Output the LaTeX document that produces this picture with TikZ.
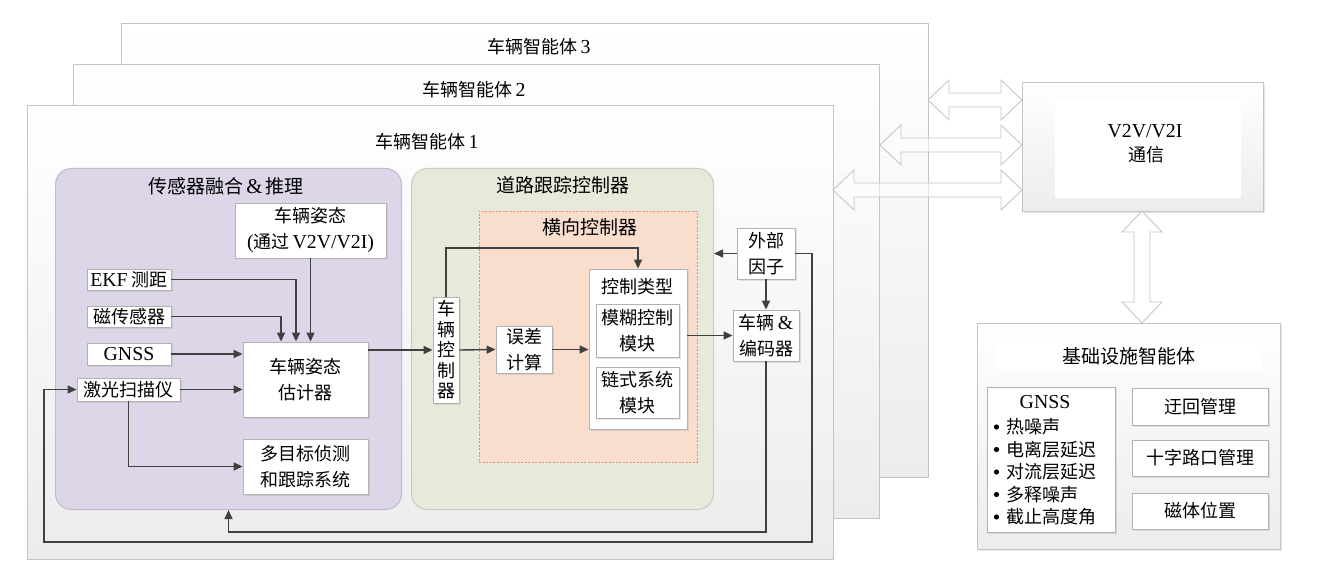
\documentclass[tikz,border=0pt]{standalone}
\usepackage{fontspec}
\setmainfont{Noto Sans CJK SC}
\newfontfamily\lat{Liberation Serif}[Scale=1.1]
\usetikzlibrary{arrows.meta,shadows}
\newcommand\la[1]{{\lat #1}}
\definecolor{framegray}{RGB}{196,196,196}
\definecolor{agbot}{RGB}{236,236,236}
\definecolor{boxline}{RGB}{178,178,178}
\definecolor{lineC}{RGB}{64,64,64}
\definecolor{lavfill}{RGB}{220,214,232}
\definecolor{lavline}{RGB}{192,186,206}
\definecolor{grnfill}{RGB}{229,234,219}
\definecolor{grnline}{RGB}{200,206,190}
\definecolor{pchfill}{RGB}{249,222,206}
\definecolor{pchline}{RGB}{232,140,120}
\newcommand\hblk[3]{\draw[barrow] (#1,#3) -- (#1+21,#3-20) -- (#1+21,#3-7) -- (#2-21,#3-7) -- (#2-21,#3-20) -- (#2,#3) -- (#2-21,#3+20) -- (#2-21,#3+7) -- (#1+21,#3+7) -- (#1+21,#3+20) -- cycle;}
\newcommand\vblk[3]{\draw[barrow] (#1,#2) -- (#1+20,#2+21) -- (#1+8,#2+21) -- (#1+8,#3-21) -- (#1+20,#3-21) -- (#1,#3) -- (#1-20,#3-21) -- (#1-8,#3-21) -- (#1-8,#2+21) -- (#1-20,#2+21) -- cycle;}
\begin{document}
\begin{tikzpicture}[x=1pt,y=-1pt,
  agent/.style={draw=framegray,line width=1pt,top color=white,bottom color=agbot,inner sep=0pt,anchor=north west},
  ttl/.style={font=\fontsize{18}{22}\selectfont,inner sep=0pt},
  grp/.style={line width=1pt,rounded corners=16pt,inner sep=0pt,anchor=north west},
  box/.style={draw=boxline,fill=white,line width=0.9pt,inner sep=0pt,align=center,
    font=\fontsize{18}{26}\selectfont,
    drop shadow={shadow xshift=1.5pt,shadow yshift=-1.5pt,opacity=0.3,fill=gray!70}},
  conn/.style={draw=lineC,line width=1.4pt,-{Triangle[length=9pt,width=8pt]}},
  barrow/.style={draw=gray!45,fill=white,fill opacity=0.55,line width=0.9pt},
]
\useasboundingbox (0,0) rectangle (1319,585);

% vehicle agent frames
\node[agent,minimum width=807pt,minimum height=454pt] (a3) at (121,23) {};
\node[ttl] (t3) at (539,47) {车辆智能体\,\la{3}};
\node[agent,minimum width=806pt,minimum height=454pt] (a2) at (73,64) {};
\node[ttl] (t2) at (474,90) {车辆智能体\,\la{2}};
\node[agent,minimum width=806pt,minimum height=454pt] (a1) at (27,105) {};
\node[ttl] (t1) at (427,142) {车辆智能体\,\la{1}};

% groups
\node[grp,draw=lavline,fill=lavfill,minimum width=346pt,minimum height=341pt] (sensor) at (55,168) {};
\node[ttl,font=\fontsize{19}{22}\selectfont] (tsens) at (226,186) {传感器融合\,\la{\&}\,推理};
\node[grp,draw=grnline,fill=grnfill,minimum width=302pt,minimum height=341pt] (road) at (411,168) {};
\node[ttl,font=\fontsize{19}{22}\selectfont] (troad) at (563,185) {道路跟踪控制器};
\node[anchor=north west,inner sep=0pt,draw=pchline,fill=pchfill,line width=0.8pt,dash pattern=on 2pt off 1.5pt,
  minimum width=218pt,minimum height=251pt] (lat) at (479,211) {};
\node[ttl,font=\fontsize{19}{22}\selectfont] (tlat) at (590,227) {横向控制器};

% sensor fusion nodes
\node[box,minimum width=151pt,minimum height=55pt] (vpose) at (310.5,230.5) {车辆姿态\\\la{(}通过\,\la{V2V/V2I)}};
\node[box,minimum width=84pt,minimum height=21pt] (ekf) at (129,279.5) {\la{EKF} 测距};
\node[box,minimum width=84pt,minimum height=21pt] (mag) at (129,316.5) {磁传感器};
\node[box,minimum width=84pt,minimum height=22pt] (gnss) at (129,354) {\la{GNSS}};
\node[box,minimum width=103pt,minimum height=23pt] (laser) at (128.5,389.5) {激光扫描仪};
\node[box,minimum width=125pt,minimum height=75pt] (est) at (305.5,379.5) {车辆姿态\\估计器};
\node[box,minimum width=125pt,minimum height=55pt] (mtt) at (305.5,466.5) {多目标侦测\\和跟踪系统};

% road tracking nodes
\node[box,minimum width=26pt,minimum height=106pt,font=\fontsize{18}{20.5}\selectfont] (vctrl) at (446,350) {车\\辆\\控\\制\\器};
\node[box,minimum width=56pt,minimum height=47pt] (err) at (524,349.5) {误差\\计算};
\node[box,minimum width=98pt,minimum height=160pt] (ctype) at (638,349) {};
\node[ttl] (tctype) at (637,287) {控制类型};
\node[box,minimum width=83pt,minimum height=53pt] (fuzzy) at (637.5,330.5) {模糊控制\\模块};
\node[box,minimum width=83pt,minimum height=51pt] (chain) at (637.5,392.5) {链式系统\\模块};
\node[box,minimum width=58pt,minimum height=51pt] (ext) at (766,253.5) {外部\\因子};
\node[box,minimum width=66pt,minimum height=51pt] (veh) at (766,335.5) {车辆\,\la{\&}\\编码器};

% communication
\node[anchor=north west,inner sep=0pt,draw=framegray,line width=1pt,top color=white,bottom color=agbot,
  minimum width=241pt,minimum height=129pt,drop shadow={shadow xshift=1.5pt,shadow yshift=-1.5pt,opacity=0.2,fill=gray}] (comm) at (1022,82) {};
\node[anchor=north west,inner sep=0pt,fill=white,minimum width=186pt,minimum height=98pt] (commin) at (1055,100) {};
\node[ttl] (tcomm1) at (1145,131) {\la{V2V/V2I}};
\node[ttl] (tcomm2) at (1146,155) {通信};

% infrastructure
\node[anchor=north west,inner sep=0pt,draw=framegray,line width=1pt,top color=white,bottom color=agbot,
  minimum width=303pt,minimum height=226pt,drop shadow={shadow xshift=1.5pt,shadow yshift=-1.5pt,opacity=0.2,fill=gray}] (infra) at (977,323) {};
\node[inner sep=0pt,fill=white,minimum width=265pt,minimum height=30pt,font=\fontsize{19}{22}\selectfont] (tinfra) at (1129,356) {基础设施智能体};
\node[box,anchor=north west,minimum width=128pt,minimum height=145pt] (glist) at (987,387) {};
\node[ttl] (tg) at (1045,402) {\la{GNSS}};
\foreach \i/\yy/\tx in {1/427/热噪声,2/449.5/电离层延迟,3/472/对流层延迟,4/494.5/多释噪声,5/517/截止高度角}{
  \fill (996.5,\yy) circle (2.6pt);
  \node[ttl,anchor=west] (g\i) at (1006,\yy) {\tx};
}
\node[box,minimum width=136pt,minimum height=37pt] (detour) at (1200,406.5) {迂回管理};
\node[box,minimum width=136pt,minimum height=36pt] (cross) at (1200,458) {十字路口管理};
\node[box,minimum width=136pt,minimum height=36pt] (magpos) at (1200,511) {磁体位置};

% block arrows
\hblk{928}{1022}{100}
\hblk{880}{1022}{145}
\hblk{833}{1022}{190}
\vblk{1142}{211}{323}

% connectors
\coordinate (k1) at (446,248);
\coordinate (k2) at (766,532);
\coordinate (k3) at (812,542);
\coordinate (k4) at (44,389.5);
\draw[conn] (ekf.east) -| ([xshift=-9.5pt]est.north);
\draw[conn] (mag.east) -| ([xshift=-24.5pt]est.north);
\draw[conn] (vpose.south) -- (est.north -| vpose.south);
\draw[conn] (gnss.east) -- (gnss.east -| est.west);
\draw[conn] (laser.east) -- (laser.east -| est.west);
\draw[conn] (laser.south) |- (mtt.west);
\draw[conn] (est.east |- vctrl.west) -- (vctrl.west);
\draw[conn] (vctrl.north) -- (k1) -| (ctype.north);
\draw[conn] (vctrl.east) -- (err.west);
\draw[conn] (err.east) -- (err.east -| ctype.west);
\draw[conn] (ctype.east |- veh.west) -- (veh.west);
\draw[conn] (ext.west) -- (ext.west -| road.east);
\draw[conn] (ext.south) -- (veh.north);
\draw[conn] (veh.south) -- (k2) -| (sensor.south);
\draw[conn] (ext.east) -| (k3) -| (k4) -- (laser.west);
\end{tikzpicture}
\end{document}
